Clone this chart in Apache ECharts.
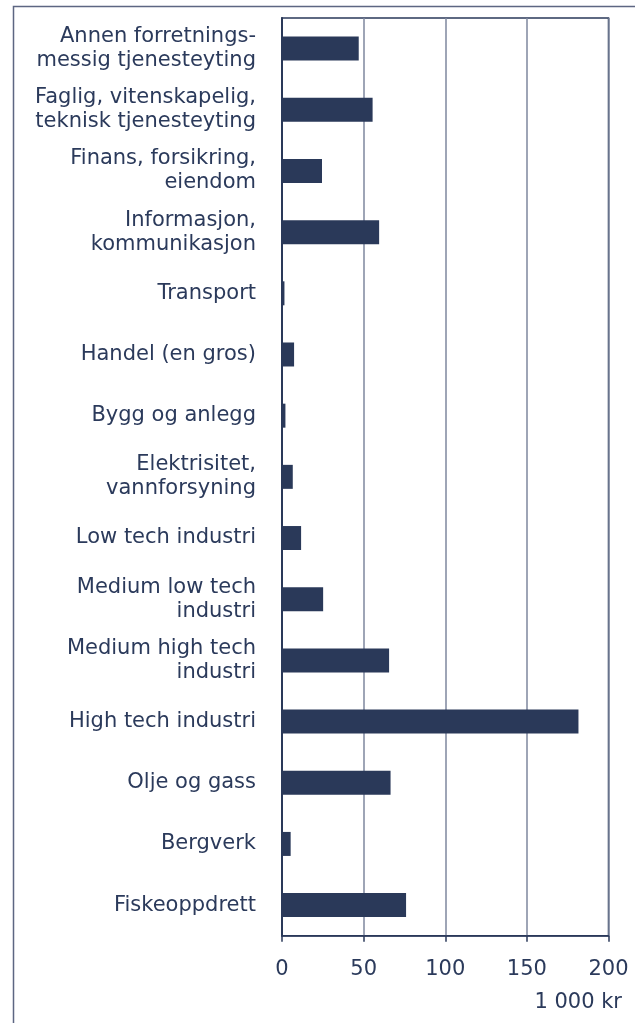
<!DOCTYPE html>
<html>
<head>
<meta charset="utf-8">
<script src="https://cdn.jsdelivr.net/npm/echarts@6/dist/echarts.min.js"></script>
<style>
  html, body { margin: 0; padding: 0; background: #ffffff; }
  #chart { width: 635px; height: 1023px; }
</style>
</head>
<body>
<div id="chart"></div>
<script>
// Industries, top to bottom
const categories = [
  'Annen forretnings-\nmessig tjenesteyting',
  'Faglig, vitenskapelig,\nteknisk tjenesteyting',
  'Finans, forsikring,\neiendom',
  'Informasjon,\nkommunikasjon',
  'Transport',
  'Handel (en gros)',
  'Bygg og anlegg',
  'Elektrisitet,\nvannforsyning',
  'Low tech industri',
  'Medium low tech\nindustri',
  'Medium high tech\nindustri',
  'High tech industri',
  'Olje og gass',
  'Bergverk',
  'Fiskeoppdrett'
];

// Values in 1 000 kr
const values = [47, 55.5, 24.5, 59.5, 1.5, 7.4, 2.1, 6.6, 11.7, 25.2, 65.6, 181.6, 66.5, 5.3, 76];

const xTicks = { min: 0, max: 200, interval: 50 };
const unitLabel = '1 000 kr';

const navy = '#2a3959';
const textColor = '#2b3a5b';
const gridColor = '#7e879e';
const fontFamily = '"DejaVu Sans", Verdana, sans-serif';

const chart = echarts.init(document.getElementById('chart'), null, { renderer: 'canvas' });

chart.setOption({
  animation: false,
  backgroundColor: '#ffffff',
  grid: {
    left: 282,
    right: 26.5,
    top: 18,
    bottom: 87.3,
    show: true,
    borderColor: navy,
    borderWidth: 1.5,
    containLabel: false
  },
  xAxis: {
    type: 'value',
    min: xTicks.min,
    max: xTicks.max,
    interval: xTicks.interval,
    axisLine: { show: true, lineStyle: { color: navy, width: 1.5 } },
    axisTick: { show: true, length: 6, lineStyle: { color: navy, width: 1.5 } },
    axisLabel: {
      color: textColor,
      fontSize: 21,
      fontFamily: fontFamily,
      margin: 23
    },
    splitLine: { show: true, lineStyle: { color: gridColor, width: 1.5 } }
  },
  yAxis: {
    type: 'category',
    data: categories,
    inverse: true,
    axisLine: { show: true, lineStyle: { color: navy, width: 2 } },
    axisTick: { show: false },
    axisLabel: {
      color: textColor,
      fontSize: 21,
      lineHeight: 24,
      fontFamily: fontFamily,
      margin: 26,
      align: 'right'
    }
  },
  series: [{
    type: 'bar',
    data: values,
    barWidth: 24,
    itemStyle: { color: navy },
    silent: true
  }],
  graphic: [
    {
      type: 'rect',
      shape: { x: 13.5, y: 6.5, width: 640, height: 1030 },
      style: { fill: 'none', stroke: '#5d6682', lineWidth: 1.5 },
      silent: true
    },
    {
      type: 'text',
      right: 13,
      top: 992,
      style: {
        text: unitLabel,
        fill: textColor,
        font: '21px ' + fontFamily,
        align: 'right'
      }
    }
  ]
});
</script>
</body>
</html>
